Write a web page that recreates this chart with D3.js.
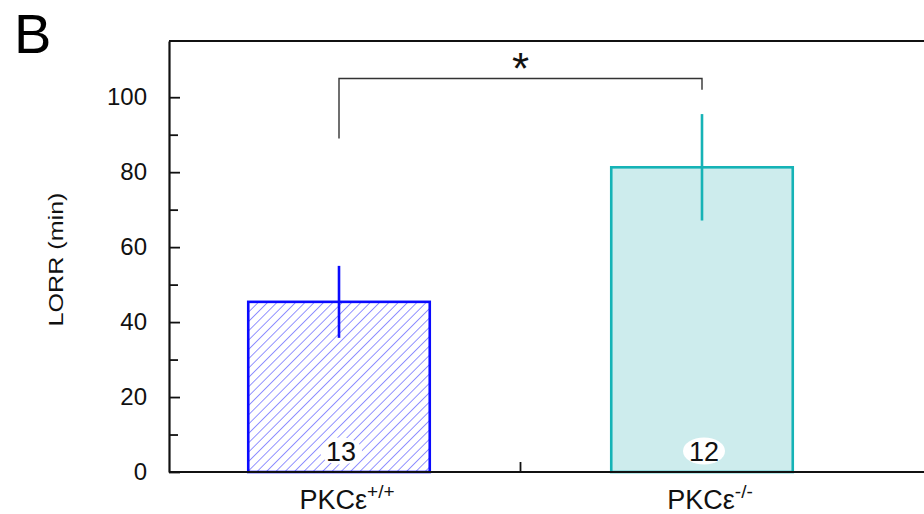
<!DOCTYPE html>
<html>
<head>
<meta charset="utf-8">
<script src="https://cdn.jsdelivr.net/npm/d3@7"></script>
<style>
  html, body { margin: 0; padding: 0; background: #fff; }
  svg { display: block; font-family: "Liberation Sans", Arial, sans-serif; }
</style>
</head>
<body>
<svg id="chart" width="924" height="514"></svg>
<script>
// Loss of righting reflex duration by genotype (mean ± SEM, n per group)
const groups = ["PKCε+/+", "PKCε-/-"];
const groupBase = ["PKCε", "PKCε"];
const groupSup = ["+/+", "-/-"];
const lorrMean = [45.4, 81.3];
const lorrSem = [9.6, 14.2];
const sampleSize = [13, 12];
const majorTicks = [0, 20, 40, 60, 80, 100];
const minorTicks = [10, 30, 50, 70, 90];
// significance bracket: bar height and where each leg stops
const bracketLevel = 105;
const bracketLegEnds = [89, 102];
const bracketLabel = "*";

const svg = d3.select("#chart");
const plotLeft = 169, plotTop = 41, plotBottom = 472, plotRight = 940;

const y = d3.scaleLinear().domain([0, 115]).range([plotBottom, plotTop]);
const x = d3.scaleBand().domain(groups).range([157.5, 883.5])
  .paddingInner(0.5).paddingOuter(0.25);

const strokeCol = ["#0a0aff", "#16b3b6"];

// hatch pattern for the wild-type bar
const defs = svg.append("defs");
defs.append("pattern")
  .attr("id", "hatch")
  .attr("patternUnits", "userSpaceOnUse")
  .attr("width", 6.6).attr("height", 6.6)
  .attr("patternTransform", "rotate(45)")
  .append("line")
  .attr("x1", 0).attr("y1", 0).attr("x2", 0).attr("y2", 6.6)
  .attr("stroke", "#3a3aff").attr("stroke-width", 1.1);

const fills = ["url(#hatch)", "#cdeced"];

// frame: top border
svg.append("line").attr("x1", plotLeft).attr("x2", plotRight)
  .attr("y1", plotTop).attr("y2", plotTop)
  .attr("stroke", "#111").attr("stroke-width", 2.2);

// bars
svg.selectAll("rect.bar").data(groups).join("rect")
  .attr("class", "bar")
  .attr("x", d => x(d))
  .attr("width", x.bandwidth())
  .attr("y", (d, i) => y(lorrMean[i]))
  .attr("height", (d, i) => y(0) - y(lorrMean[i]))
  .attr("fill", (d, i) => fills[i])
  .attr("stroke", (d, i) => strokeCol[i])
  .attr("stroke-width", 2.6);

// error bars
svg.selectAll("line.err").data(groups).join("line")
  .attr("class", "err")
  .attr("x1", d => x(d) + x.bandwidth() / 2)
  .attr("x2", d => x(d) + x.bandwidth() / 2)
  .attr("y1", (d, i) => y(lorrMean[i] - lorrSem[i]))
  .attr("y2", (d, i) => y(lorrMean[i] + lorrSem[i]))
  .attr("stroke", (d, i) => strokeCol[i])
  .attr("stroke-width", 2.6);

// sample sizes on white ovals
const nLab = svg.selectAll("g.n").data(groups).join("g")
  .attr("class", "n")
  .attr("transform", d => `translate(${x(d) + x.bandwidth() / 2 + 2},${y(0) - 21})`);
nLab.append("ellipse").attr("rx", 21).attr("ry", 13.5).attr("fill", "#fff");
nLab.append("text")
  .attr("text-anchor", "middle").attr("y", 10)
  .attr("font-size", 27).attr("fill", "#111")
  .text((d, i) => sampleSize[i]);

// baseline
svg.append("line").attr("x1", plotLeft).attr("x2", plotRight)
  .attr("y1", plotBottom).attr("y2", plotBottom)
  .attr("stroke", "#111").attr("stroke-width", 2.2);

// y axis with inward ticks
const yAxis = svg.append("g").attr("transform", `translate(${plotLeft},0)`)
  .call(d3.axisLeft(y).tickValues(majorTicks).tickSizeInner(-11).tickSizeOuter(0).tickPadding(22));
yAxis.select(".domain").attr("stroke", "#111").attr("stroke-width", 2.2);
yAxis.selectAll(".tick line").attr("stroke", "#111").attr("stroke-width", 1.8);
yAxis.selectAll(".tick text").attr("font-size", 24).attr("fill", "#111")
  .attr("font-family", "Liberation Sans, Arial, sans-serif");

const yMinor = svg.append("g").attr("transform", `translate(${plotLeft},0)`)
  .call(d3.axisLeft(y).tickValues(minorTicks).tickSizeInner(-9).tickSizeOuter(0).tickFormat(""));
yMinor.select(".domain").remove();
yMinor.selectAll(".tick line").attr("stroke", "#111").attr("stroke-width", 1.8);

// divider tick between the two groups on the baseline
const midX = (x(groups[0]) + x.bandwidth() + x(groups[1])) / 2;
svg.append("line").attr("x1", midX).attr("x2", midX)
  .attr("y1", plotBottom).attr("y2", plotBottom - 10)
  .attr("stroke", "#111").attr("stroke-width", 1.8);

// group labels with superscript genotype
const xl = svg.selectAll("text.xl").data(groups).join("text")
  .attr("class", "xl")
  .attr("x", d => x(d) + x.bandwidth() / 2 + 8)
  .attr("y", 509)
  .attr("text-anchor", "middle")
  .attr("font-size", 27).attr("fill", "#111");
xl.append("tspan").text((d, i) => groupBase[i]);
xl.append("tspan").attr("dy", -11).attr("font-size", 19).text((d, i) => groupSup[i]);

// y axis title
svg.append("text")
  .attr("transform", `translate(63,${(plotTop + plotBottom) / 2 + 3}) rotate(-90)`)
  .attr("text-anchor", "middle")
  .attr("font-size", 21).attr("fill", "#111")
  .attr("textLength", 134).attr("lengthAdjust", "spacingAndGlyphs")
  .text("LORR (min)");

// panel letter
svg.append("text").attr("x", 14).attr("y", 53)
  .attr("font-size", 56).attr("fill", "#000").text("B");

// significance bracket
const bx0 = x(groups[0]) + x.bandwidth() / 2;
const bx1 = x(groups[1]) + x.bandwidth() / 2;
svg.append("path")
  .attr("d", `M${bx0},${y(bracketLegEnds[0])}V${y(bracketLevel)}H${bx1}V${y(bracketLegEnds[1])}`)
  .attr("fill", "none").attr("stroke", "#333").attr("stroke-width", 1.4);
svg.append("text")
  .attr("x", (bx0 + bx1) / 2).attr("y", 84)
  .attr("text-anchor", "middle")
  .attr("font-size", 44).attr("fill", "#111")
  .text(bracketLabel);
</script>
</body>
</html>
